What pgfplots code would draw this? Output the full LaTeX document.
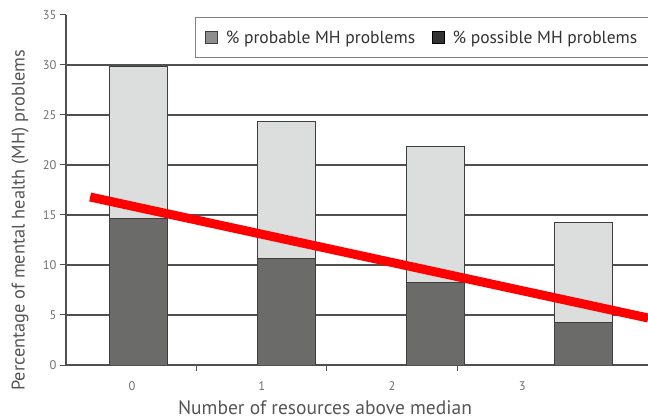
\documentclass[border=0pt]{standalone}
\usepackage{fontspec}
\setmainfont{PT Sans}
\usepackage{pgfplots}
\pgfplotsset{compat=1.18}
\definecolor{lightbar}{HTML}{DCDDDD}
\definecolor{darkbar}{HTML}{6B6B69}
\definecolor{gridc}{HTML}{505050}
\definecolor{edgec}{HTML}{3E3E3E}
\definecolor{legprob}{HTML}{8E8E8E}
\definecolor{legposs}{HTML}{333333}
\definecolor{labc}{HTML}{555555}
\definecolor{tickc}{HTML}{707070}
\begin{document}
\begin{tikzpicture}
\begin{axis}[
  at={(0,0)}, anchor=south west,
  scale only axis, width=582bp, height=350bp,
  xmin=-0.493, xmax=3.439, ymin=0, ymax=35,
  axis x line*=bottom, axis y line*=left,
  axis line style={draw=gridc, line width=1.2bp},
  /pgf/number format/assume math mode=true,
  ytick={0,5,...,30},
  extra y ticks={35}, extra y tick style={grid=none},
  ymajorgrids,
  grid style={draw=gridc, line width=1.2bp},
  tick align=outside, major tick length=6bp,
  tick style={draw=gridc, line width=1bp},
  yticklabel style={font=\fontsize{12.5bp}{14bp}\selectfont, text=tickc},
  xtick={0.39,1.27,2.15}, xticklabels={},
  extra x ticks={-0.047,0.83,1.71,2.59},
  extra x tick labels={0,1,2,3},
  extra x tick style={major tick length=0pt, xticklabel style={yshift=-13bp}},
  xticklabel style={font=\fontsize{12.5bp}{14bp}\selectfont, text=tickc},
  xlabel={Number of resources above median},
  ylabel={Percentage of mental health (MH) problems},
  label style={text=labc},
  xlabel style={font=\fontsize{19.5bp}{22bp}\selectfont, at={(axis description cs:0.445,-0.123)}, anchor=center},
  ylabel style={font=\fontsize{18.3bp}{22bp}\selectfont, at={(axis description cs:-0.079,0.414)}, anchor=center},
  legend columns=2,
  legend style={at={(0.2216,0.994)}, anchor=north west,
    draw=gray, line width=1bp, inner xsep=10bp, inner ysep=11bp,
    font=\fontsize{17.5bp}{20bp}\selectfont, text=legposs,
    /tikz/every even column/.append style={column sep=15bp}},
  legend cell align=left,
]
\addlegendimage{legend image code/.code={\draw[fill=legprob, draw=edgec, line width=0.8bp] (0bp,-6bp) rectangle (12bp,6bp); \path[draw=none] (0bp,0bp) -- (18bp,0bp);}}
\addlegendimage{legend image code/.code={\draw[fill=legposs, draw=black, line width=0.8bp] (0bp,-6bp) rectangle (12bp,6bp); \path[draw=none] (0bp,0bp) -- (18bp,0bp);}}
\legend{\% probable MH problems, \% possible MH problems}
% total (possible + probable)
\addplot[ybar, bar width=58bp, bar shift=0pt, fill=lightbar, draw=edgec, line width=1bp]
  coordinates {(0,29.8) (1,24.3) (2,21.8) (3,14.2)};
% possible
\addplot[ybar, bar width=58bp, bar shift=0pt, fill=darkbar, draw=edgec, line width=1bp]
  coordinates {(0,14.6) (1,10.6) (2,8.2) (3,4.2)};
% trend line
\addplot[red, line width=9bp, sharp plot, no marks]
  coordinates {(-0.33,16.8) (3.44,4.7)};
\end{axis}
\pgfresetboundingbox
\path (-66bp,-55bp) rectangle (582bp,365bp);
\end{tikzpicture}
\end{document}
